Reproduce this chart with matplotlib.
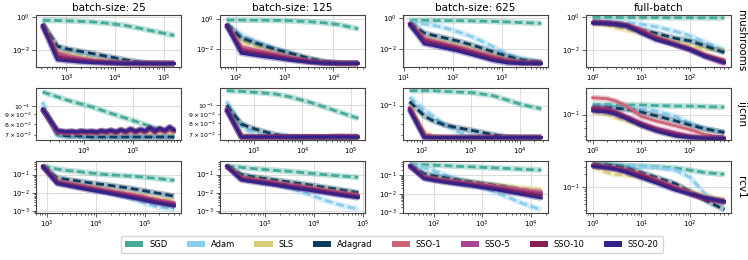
import matplotlib
matplotlib.use("Agg")
import matplotlib.pyplot as plt
from matplotlib.patches import Patch
from matplotlib.ticker import NullFormatter, FixedLocator

methods = ["SGD", "Adam", "SLS", "Adagrad", "SSO-1", "SSO-5", "SSO-10", "SSO-20"]
colors = ["#44AA99", "#88CCEE", "#DDCC77", "#0B3C5D",
          "#CC6677", "#AA4499", "#882255", "#332288"]
baselines = ["SGD", "Adam", "SLS", "Adagrad"]

datasets = ["mushrooms", "ijcnn", "rcv1"]
n_samples = [8124, 35000, 20242]
col_titles = ["batch-size: 25", "batch-size: 125", "batch-size: 625", "full-batch"]
batch_sizes = [25, 125, 625, None]

# epochs for the stochastic runs, iterations for full-batch
epochs = [1, 2, 3, 5, 10, 20, 50, 100, 200, 500]

# ---- mushrooms ----
mush_25 = {
    "SGD":     [0.62, 0.6, 0.58, 0.55, 0.5, 0.42, 0.3, 0.2, 0.13, 0.075],
    "Adam":    [0.35, 0.012, 0.008, 0.0055, 0.0035, 0.0025, 0.0018, 0.0016, 0.0015, 0.0015],
    "SLS":     [0.33, 0.009, 0.0065, 0.0045, 0.003, 0.0022, 0.0017, 0.0016, 0.0015, 0.0015],
    "Adagrad": [0.4, 0.017, 0.012, 0.009, 0.0062, 0.0042, 0.0025, 0.0018, 0.0016, 0.0015],
    "SSO-1":   [0.32, 0.007, 0.005, 0.0035, 0.0025, 0.002, 0.0016, 0.0015, 0.0016, 0.0015],
    "SSO-5":   [0.3, 0.005, 0.0038, 0.0028, 0.0021, 0.0018, 0.0016, 0.0015, 0.0015, 0.0015],
    "SSO-10":  [0.3, 0.0038, 0.003, 0.0024, 0.0019, 0.0017, 0.0015, 0.0015, 0.0015, 0.0015],
    "SSO-20":  [0.3, 0.0025, 0.0022, 0.0019, 0.0017, 0.0016, 0.0015, 0.0015, 0.0015, 0.0015],
}
mush_125 = {
    "SGD":     [0.85, 0.84, 0.83, 0.82, 0.8, 0.75, 0.65, 0.55, 0.42, 0.22],
    "Adam":    [0.5, 0.09, 0.05, 0.025, 0.011, 0.0055, 0.0022, 0.0014, 0.0012, 0.0012],
    "SLS":     [0.4, 0.035, 0.022, 0.013, 0.007, 0.004, 0.0019, 0.0014, 0.0012, 0.0012],
    "Adagrad": [0.45, 0.055, 0.035, 0.02, 0.01, 0.0055, 0.0025, 0.0016, 0.0013, 0.0012],
    "SSO-1":   [0.4, 0.015, 0.011, 0.008, 0.005, 0.003, 0.0017, 0.0013, 0.0012, 0.0012],
    "SSO-5":   [0.4, 0.011, 0.008, 0.006, 0.004, 0.0026, 0.0016, 0.0013, 0.0012, 0.0012],
    "SSO-10":  [0.4, 0.008, 0.0065, 0.005, 0.0035, 0.0023, 0.0015, 0.0013, 0.0012, 0.0012],
    "SSO-20":  [0.38, 0.0055, 0.0045, 0.0035, 0.0026, 0.0019, 0.0014, 0.0012, 0.0012, 0.0012],
}
mush_625 = {
    "SGD":     [0.72, 0.72, 0.71, 0.7, 0.69, 0.67, 0.62, 0.57, 0.52, 0.46],
    "Adam":    [0.6, 0.42, 0.35, 0.25, 0.13, 0.06, 0.015, 0.005, 0.0025, 0.0016],
    "SLS":     [0.45, 0.06, 0.04, 0.028, 0.017, 0.01, 0.0045, 0.0025, 0.0016, 0.0013],
    "Adagrad": [0.5, 0.11, 0.08, 0.055, 0.033, 0.018, 0.007, 0.0035, 0.002, 0.0014],
    "SSO-1":   [0.45, 0.05, 0.035, 0.024, 0.014, 0.008, 0.0035, 0.002, 0.0014, 0.0013],
    "SSO-5":   [0.45, 0.04, 0.03, 0.02, 0.012, 0.0065, 0.003, 0.0018, 0.0014, 0.0013],
    "SSO-10":  [0.45, 0.035, 0.025, 0.017, 0.01, 0.0055, 0.0025, 0.0016, 0.0013, 0.0013],
    "SSO-20":  [0.4, 0.022, 0.017, 0.012, 0.0075, 0.0042, 0.0019, 0.0013, 0.0012, 0.0012],
}
mush_full = {
    "SGD":     [0.9, 0.9, 0.9, 0.89, 0.89, 0.88, 0.87, 0.87, 0.86, 0.85],
    "Adam":    [0.55, 0.52, 0.5, 0.45, 0.35, 0.25, 0.13, 0.07, 0.03, 0.01],
    "SLS":     [0.45, 0.3, 0.22, 0.16, 0.1, 0.06, 0.03, 0.018, 0.012, 0.009],
    "Adagrad": [0.5, 0.4, 0.32, 0.25, 0.16, 0.1, 0.05, 0.035, 0.018, 0.007],
    "SSO-1":   [0.45, 0.42, 0.38, 0.32, 0.16, 0.06, 0.025, 0.012, 0.005, 0.0025],
    "SSO-5":   [0.45, 0.42, 0.38, 0.3, 0.14, 0.05, 0.02, 0.01, 0.004, 0.0015],
    "SSO-10":  [0.45, 0.42, 0.38, 0.3, 0.13, 0.05, 0.02, 0.011, 0.005, 0.002],
    "SSO-20":  [0.4, 0.38, 0.35, 0.28, 0.1, 0.04, 0.02, 0.01, 0.004, 0.0018],
}

# ---- ijcnn ----
ijcnn_25 = {
    "SGD":     [0.119, 0.112, 0.108, 0.104, 0.099, 0.093, 0.086, 0.081, 0.076, 0.072],
    "Adam":    [0.105, 0.069, 0.068, 0.068, 0.068, 0.068, 0.068, 0.068, 0.068, 0.068],
    "SLS":     [0.096, 0.073, 0.072, 0.072, 0.072, 0.072, 0.072, 0.072, 0.072, 0.072],
    "Adagrad": [0.097, 0.071, 0.069, 0.069, 0.068, 0.068, 0.068, 0.068, 0.068, 0.068],
}
# the SSO runs at batch-size 25 are noisy, logged more often
ijcnn_25_epochs = [1, 2, 3, 4, 5, 6, 8, 10, 13, 16, 20, 25, 32, 40, 50, 63,
                   80, 100, 125, 160, 200, 250, 320, 400, 500]
ijcnn_25_sso = {
    "SSO-1":  [0.096, 0.0722, 0.0714, 0.0718, 0.0712, 0.0719, 0.0713, 0.0717, 0.0711,
               0.0722, 0.0714, 0.0726, 0.0712, 0.073, 0.0715, 0.0736, 0.0716, 0.0733,
               0.0718, 0.0745, 0.0717, 0.074, 0.072, 0.0752, 0.0722],
    "SSO-5":  [0.0962, 0.0728, 0.0719, 0.0724, 0.0717, 0.0726, 0.0719, 0.0723, 0.0716,
               0.0729, 0.072, 0.0733, 0.0718, 0.0738, 0.0721, 0.0745, 0.0722, 0.0741,
               0.0725, 0.0756, 0.0723, 0.0749, 0.0727, 0.0762, 0.073],
    "SSO-10": [0.0965, 0.0733, 0.0723, 0.0728, 0.0721, 0.0731, 0.0724, 0.0729, 0.0721,
               0.0734, 0.0725, 0.0738, 0.0723, 0.0743, 0.0726, 0.075, 0.0727, 0.0746,
               0.073, 0.0762, 0.0728, 0.0755, 0.0733, 0.0768, 0.0736],
    "SSO-20": [0.096, 0.0738, 0.0728, 0.0732, 0.0725, 0.0735, 0.0728, 0.0733, 0.0726,
               0.0738, 0.0729, 0.0741, 0.0727, 0.0745, 0.073, 0.0752, 0.0731, 0.0748,
               0.0735, 0.0765, 0.0733, 0.0758, 0.0738, 0.0772, 0.0741],
}
ijcnn_125 = {
    "SGD":     [0.12, 0.119, 0.118, 0.117, 0.115, 0.111, 0.104, 0.098, 0.092, 0.085],
    "Adam":    [0.105, 0.077, 0.072, 0.069, 0.0677, 0.0675, 0.0675, 0.0675, 0.0675, 0.0675],
    "SLS":     [0.097, 0.07, 0.068, 0.0677, 0.0675, 0.0675, 0.0675, 0.0675, 0.0675, 0.0675],
    "Adagrad": [0.1, 0.0795, 0.076, 0.073, 0.0695, 0.0678, 0.0675, 0.0675, 0.0675, 0.0675],
    "SSO-1":   [0.096, 0.068, 0.0676, 0.0675, 0.0676, 0.0675, 0.0679, 0.0676, 0.0684, 0.0678],
    "SSO-5":   [0.095, 0.0675, 0.0675, 0.0675, 0.0675, 0.0675, 0.0676, 0.0675, 0.0678, 0.0676],
    "SSO-10":  [0.095, 0.0675, 0.0675, 0.0675, 0.0675, 0.0675, 0.0675, 0.0675, 0.0676, 0.0675],
    "SSO-20":  [0.0947, 0.0674, 0.0674, 0.0674, 0.0674, 0.0674, 0.0674, 0.0674, 0.0674, 0.0674],
}
ijcnn_625 = {
    "SGD":     [0.12, 0.12, 0.12, 0.119, 0.118, 0.117, 0.113, 0.107, 0.101, 0.096],
    "Adam":    [0.111, 0.095, 0.088, 0.08, 0.072, 0.0685, 0.0675, 0.0675, 0.0675, 0.0675],
    "SLS":     [0.099, 0.072, 0.069, 0.0678, 0.0675, 0.0675, 0.0675, 0.0675, 0.0675, 0.0675],
    "Adagrad": [0.105, 0.088, 0.083, 0.079, 0.076, 0.0735, 0.07, 0.068, 0.0675, 0.0675],
    "SSO-1":   [0.098, 0.07, 0.068, 0.0676, 0.0675, 0.0675, 0.0675, 0.0675, 0.0675, 0.0675],
    "SSO-5":   [0.097, 0.0685, 0.0676, 0.0675, 0.0675, 0.0675, 0.0675, 0.0675, 0.0675, 0.0675],
    "SSO-10":  [0.096, 0.068, 0.0675, 0.0675, 0.0675, 0.0675, 0.0675, 0.0675, 0.0675, 0.0675],
    "SSO-20":  [0.0947, 0.0675, 0.0675, 0.0675, 0.0675, 0.0675, 0.0675, 0.0675, 0.0675, 0.0675],
}
ijcnn_full = {
    "SGD":     [0.118, 0.118, 0.117, 0.117, 0.117, 0.116, 0.115, 0.115, 0.114, 0.113],
    "Adam":    [0.115, 0.114, 0.113, 0.112, 0.11, 0.106, 0.097, 0.087, 0.079, 0.074],
    "SLS":     [0.105, 0.1, 0.095, 0.09, 0.083, 0.077, 0.071, 0.069, 0.068, 0.0675],
    "Adagrad": [0.113, 0.112, 0.111, 0.109, 0.104, 0.098, 0.09, 0.084, 0.079, 0.0745],
    "SSO-1":   [0.132, 0.13, 0.125, 0.115, 0.097, 0.09, 0.083, 0.078, 0.072, 0.0685],
    "SSO-5":   [0.112, 0.11, 0.105, 0.097, 0.087, 0.08, 0.074, 0.07, 0.068, 0.0675],
    "SSO-10":  [0.11, 0.108, 0.103, 0.095, 0.085, 0.078, 0.072, 0.069, 0.0678, 0.0675],
    "SSO-20":  [0.106, 0.104, 0.1, 0.093, 0.083, 0.076, 0.07, 0.0683, 0.0676, 0.0675],
}

# ---- rcv1 ----
rcv1_25 = {
    "SGD":     [0.3, 0.2, 0.17, 0.15, 0.12, 0.1, 0.085, 0.075, 0.062, 0.048],
    "Adam":    [0.3, 0.04, 0.033, 0.025, 0.017, 0.011, 0.006, 0.0033, 0.0018, 0.0012],
    "SLS":     [0.3, 0.045, 0.037, 0.029, 0.021, 0.016, 0.0105, 0.0075, 0.0052, 0.0036],
    "Adagrad": [0.3, 0.064, 0.055, 0.045, 0.034, 0.027, 0.019, 0.014, 0.01, 0.0064],
    "SSO-1":   [0.3, 0.042, 0.034, 0.027, 0.019, 0.014, 0.009, 0.0065, 0.0043, 0.0028],
    "SSO-5":   [0.3, 0.038, 0.031, 0.024, 0.017, 0.0125, 0.008, 0.0057, 0.0037, 0.0024],
    "SSO-10":  [0.3, 0.035, 0.028, 0.022, 0.0155, 0.011, 0.007, 0.005, 0.0033, 0.0021],
    "SSO-20":  [0.29, 0.031, 0.025, 0.019, 0.0135, 0.0098, 0.006, 0.0042, 0.0028, 0.0018],
}
rcv1_125 = {
    "SGD":     [0.3, 0.25, 0.22, 0.2, 0.17, 0.15, 0.12, 0.1, 0.085, 0.07],
    "Adam":    [0.3, 0.09, 0.07, 0.05, 0.03, 0.018, 0.008, 0.004, 0.0022, 0.0012],
    "SLS":     [0.3, 0.08, 0.065, 0.052, 0.04, 0.03, 0.021, 0.016, 0.012, 0.0085],
    "Adagrad": [0.3, 0.1, 0.08, 0.065, 0.05, 0.038, 0.027, 0.02, 0.015, 0.01],
    "SSO-1":   [0.3, 0.07, 0.058, 0.047, 0.036, 0.027, 0.019, 0.014, 0.0105, 0.0075],
    "SSO-5":   [0.3, 0.062, 0.052, 0.042, 0.032, 0.024, 0.017, 0.0125, 0.0093, 0.0066],
    "SSO-10":  [0.3, 0.057, 0.048, 0.039, 0.03, 0.022, 0.0155, 0.0113, 0.0085, 0.006],
    "SSO-20":  [0.3, 0.05, 0.042, 0.034, 0.026, 0.019, 0.0135, 0.01, 0.0074, 0.0052],
}
rcv1_625 = {
    "SGD":     [0.4, 0.37, 0.35, 0.33, 0.3, 0.28, 0.25, 0.23, 0.21, 0.19],
    "Adam":    [0.4, 0.25, 0.18, 0.11, 0.06, 0.032, 0.014, 0.007, 0.0032, 0.0014],
    "SLS":     [0.33, 0.09, 0.075, 0.062, 0.05, 0.04, 0.031, 0.026, 0.021, 0.017],
    "Adagrad": [0.35, 0.12, 0.095, 0.075, 0.055, 0.042, 0.03, 0.022, 0.015, 0.0095],
    "SSO-1":   [0.33, 0.08, 0.067, 0.055, 0.044, 0.035, 0.027, 0.021, 0.017, 0.013],
    "SSO-5":   [0.33, 0.075, 0.062, 0.05, 0.04, 0.032, 0.024, 0.018, 0.014, 0.0105],
    "SSO-10":  [0.33, 0.07, 0.058, 0.047, 0.037, 0.029, 0.021, 0.016, 0.012, 0.0085],
    "SSO-20":  [0.32, 0.066, 0.054, 0.043, 0.033, 0.026, 0.018, 0.013, 0.0093, 0.006],
}
rcv1_full = {
    "SGD":     [0.33, 0.33, 0.33, 0.32, 0.31, 0.3, 0.28, 0.25, 0.22, 0.2],
    "Adam":    [0.32, 0.32, 0.32, 0.31, 0.3, 0.29, 0.25, 0.17, 0.07, 0.04],
    "SLS":     [0.3, 0.22, 0.2, 0.19, 0.17, 0.14, 0.1, 0.08, 0.062, 0.052],
    "Adagrad": [0.35, 0.33, 0.31, 0.28, 0.22, 0.17, 0.12, 0.078, 0.05, 0.03],
    "SSO-1":   [0.33, 0.3, 0.28, 0.25, 0.2, 0.15, 0.1, 0.075, 0.058, 0.048],
    "SSO-5":   [0.32, 0.29, 0.27, 0.24, 0.19, 0.14, 0.095, 0.07, 0.055, 0.045],
    "SSO-10":  [0.32, 0.29, 0.27, 0.24, 0.19, 0.14, 0.092, 0.068, 0.053, 0.044],
    "SSO-20":  [0.31, 0.28, 0.26, 0.22, 0.165, 0.125, 0.085, 0.07, 0.057, 0.047],
}

results = [[mush_25, mush_125, mush_625, mush_full],
           [ijcnn_25, ijcnn_125, ijcnn_625, ijcnn_full],
           [rcv1_25, rcv1_125, rcv1_625, rcv1_full]]

# y-limits
ylims = [[(9.3e-4, 1.3), (6.9e-4, 1.8), (7.2e-4, 1.6), (9.6e-4, 1.26)],
         [(0.0655, 0.125), (0.065, 0.124), (0.0655, 0.124), (0.0657, 0.155)],
         [(7.6e-4, 0.56), (7.6e-4, 0.56), (9.5e-4, 0.58), (0.025, 0.41)]]

W, H = 748, 260
fig = plt.figure(figsize=(W / 100, H / 100), dpi=100)

lefts = [36, 220, 403, 586]
tops = [15, 88, 161]
aw, ah = 145, 52

for r, dname in enumerate(datasets):
    for c, title in enumerate(col_titles):
        ax = fig.add_axes([lefts[c] / W, 1 - (tops[r] + ah) / H, aw / W, ah / H])
        res = results[r][c]
        bs = batch_sizes[c]
        scale = 1 if bs is None else n_samples[r] / bs
        for m, col in zip(methods, colors):
            if m in res:
                ep, ys = epochs, res[m]
            else:
                ep, ys = ijcnn_25_epochs, ijcnn_25_sso[m]
            xs = [e * scale for e in ep]
            ax.plot(xs, ys, color=col, lw=4.2, alpha=0.35, solid_capstyle="butt")
            if m in baselines:
                ax.plot(xs, ys, color=col, lw=2.0, dashes=(2.8, 1.4))
            else:
                ax.plot(xs, ys, color=col, lw=2.0)
        ax.set_xscale("log")
        ax.set_yscale("log")
        ax.set_ylim(*ylims[r][c])
        if r == 0:
            ax.yaxis.set_major_locator(FixedLocator([1e-2, 1e0]))
        if r == 1 and c >= 2:
            ax.yaxis.set_minor_formatter(NullFormatter())
        ax.grid(True, which="major", color="#dddddd", lw=0.8)
        ax.set_axisbelow(True)
        for s in ax.spines.values():
            s.set_color("#444444")
            s.set_linewidth(0.8)
        ax.tick_params(which="both", labelsize=5, color="#444444", width=0.6, pad=1.5)
        ax.tick_params(which="major", length=2.8)
        ax.tick_params(which="minor", length=1.6)
        if r == 1 and c < 2:
            ax.tick_params(axis="y", which="both", labelsize=4.5, pad=1.2)
        if r == 0:
            ax.set_title(title, fontsize=7.5, pad=3)
        if c == 3:
            ax.text(1.035, 0.5, dname, transform=ax.transAxes, rotation=270,
                    va="center", ha="left", fontsize=7.5)

handles = [Patch(facecolor=col, edgecolor="none", label=m) for m, col in zip(methods, colors)]
fig.legend(handles=handles, loc="lower center", bbox_to_anchor=(0.524, 0.012), ncol=8,
           fontsize=6, handlelength=2.2, handleheight=0.7, handletextpad=0.7,
           columnspacing=2.3, frameon=True, edgecolor="#cccccc", fancybox=True,
           borderpad=0.45)

fig.savefig("out.png", dpi=100)
